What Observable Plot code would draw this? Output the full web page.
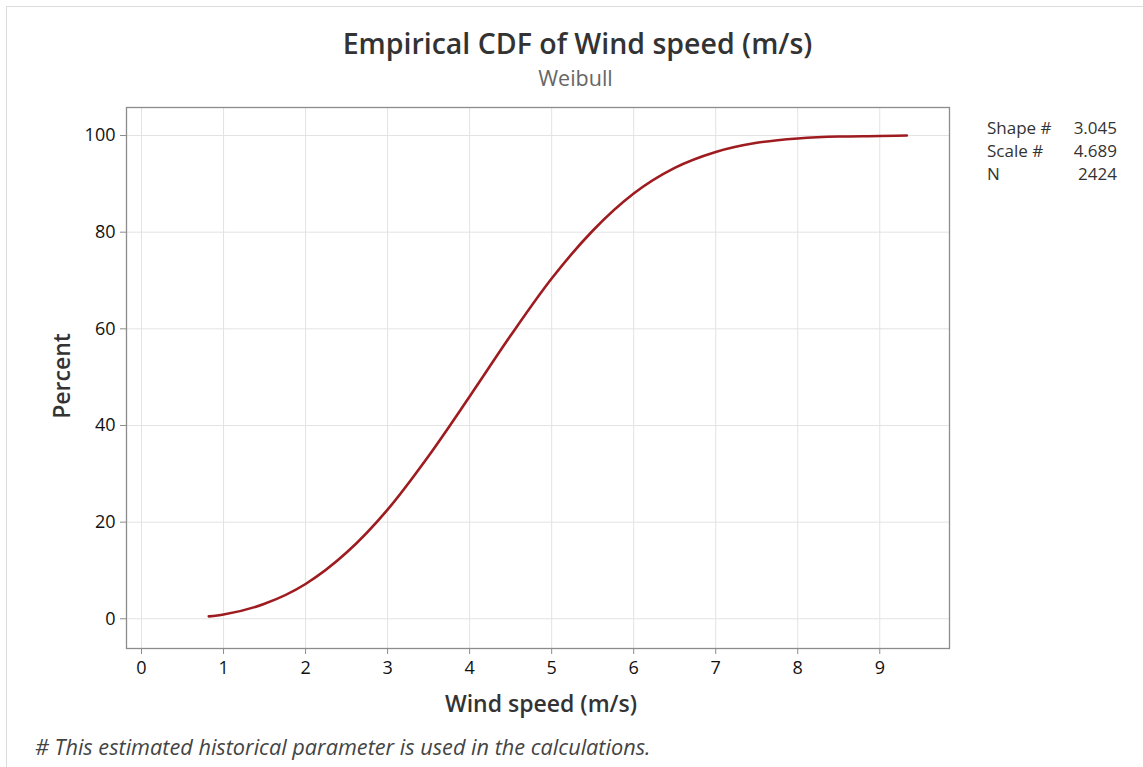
<!DOCTYPE html>
<html>
<head>
<meta charset="utf-8">
<script src="https://cdn.jsdelivr.net/npm/d3@7"></script>
<script src="https://cdn.jsdelivr.net/npm/@observablehq/plot@0.6"></script>
<style>
  body { margin: 0; background: #fff; font-family: "Open Sans", sans-serif; }
  #wrap { position: relative; width: 1143px; height: 767px; overflow: hidden; background: #fff; }
  #border { position: absolute; left: 6px; top: 6px; width: 1150px; height: 780px; border-left: 1.5px solid #dcdcdc; border-top: 1.5px solid #dcdcdc; }
  #chart { position: absolute; left: 0; top: 0; }
  #title { position: absolute; left: 0; width: 1143px; top: 26px; text-align: center; padding-left: 12px; box-sizing: border-box;
           font-size: 28.5px; font-weight: 600; color: #333; line-height: 34px; }
  #subtitle { position: absolute; left: 0; width: 1143px; top: 65px; text-align: center; padding-left: 8px; box-sizing: border-box;
              font-size: 21.5px; color: #666; line-height: 26px; }
  #legend { position: absolute; left: 987px; top: 116px; width: 130px; font-size: 17px; font-weight: 500; color: #333; line-height: 23px; }
  #legend .row { display: flex; justify-content: space-between; }
  #foot { position: absolute; left: 35px; top: 732px; font-size: 21.7px; font-style: italic; color: #444; line-height: 30px; white-space: nowrap; }
</style>
</head>
<body>
<div id="wrap">
  <div id="border"></div>
  <div id="chart"></div>
  <div id="title"></div>
  <div id="subtitle"></div>
  <div id="legend"></div>
  <div id="foot"></div>
</div>
<script>
// ---- Data ----
const windSpeed = [0.82, 1.0, 1.5, 2.0, 2.5, 3.0, 3.5, 4.0, 4.5, 5.0, 5.5, 6.0, 6.5, 7.0, 7.5, 8.0, 8.5, 9.0, 9.33];
const percent   = [0.5, 0.9, 3.1, 7.2, 13.7, 22.6, 33.7, 46.0, 58.6, 70.4, 80.3, 88.0, 93.3, 96.6, 98.5, 99.4, 99.8, 99.9, 100.0];
const xTicks = [0, 1, 2, 3, 4, 5, 6, 7, 8, 9];
const yTicks = [0, 20, 40, 60, 80, 100];
const legendLabels = ["Shape #", "Scale #", "N"];
const legendValues = ["3.045", "4.689", "2424"];
const titleText = "Empirical CDF of Wind speed (m/s)";
const subtitleText = "Weibull";
const xLabel = "Wind speed (m/s)";
const yLabel = "Percent";
const footText = "# This estimated historical parameter is used in the calculations.";

const data = windSpeed.map((x, i) => ({ x, y: percent[i] }));

document.getElementById("title").textContent = titleText;
document.getElementById("subtitle").textContent = subtitleText;
document.getElementById("foot").textContent = footText;
const leg = document.getElementById("legend");
legendLabels.forEach((l, i) => {
  const row = document.createElement("div");
  row.className = "row";
  const a = document.createElement("span"); a.textContent = l;
  const b = document.createElement("span"); b.textContent = legendValues[i];
  row.appendChild(a); row.appendChild(b);
  leg.appendChild(row);
});

const chart = Plot.plot({
  width: 1143,
  height: 767,
  marginLeft: 126,
  marginRight: 194,
  marginTop: 107,
  marginBottom: 119,
  style: { fontFamily: "'Open Sans', sans-serif", background: "transparent", overflow: "visible" },
  x: { domain: [-0.183, 9.85] },
  y: { domain: [-6.15, 105.8] },
  marks: [
    Plot.gridX(xTicks, { stroke: "#e3e3e3", strokeOpacity: 1, strokeWidth: 1 }),
    Plot.gridY(yTicks, { stroke: "#e3e3e3", strokeOpacity: 1, strokeWidth: 1 }),
    Plot.frame({ stroke: "#8c8c8c", strokeWidth: 1.3 }),
    Plot.axisX({ ticks: xTicks, tickSize: 6, tickPadding: 7, fontSize: 18, fontWeight: 500, stroke: "#8c8c8c", fill: "#111", label: null, tickFormat: d => String(d) }),
    Plot.axisY({ ticks: yTicks, tickSize: 6, tickPadding: 5, fontSize: 18, fontWeight: 500, stroke: "#8c8c8c", fill: "#111", label: null, tickFormat: d => String(d) }),
    Plot.line(data, { x: "x", y: "y", stroke: "#9e1b1f", strokeWidth: 2.6, curve: "monotone-x" }),
    Plot.text([xLabel], { frameAnchor: "bottom", lineAnchor: "middle", textAnchor: "middle", dy: 56, dx: 3, fontSize: 23, fontWeight: 600, fill: "#333" }),
    Plot.text([yLabel], { frameAnchor: "left", lineAnchor: "middle", textAnchor: "middle", dx: -64, dy: -2, rotate: -90, fontSize: 23, fontWeight: 600, fill: "#333" })
  ]
});
document.getElementById("chart").appendChild(chart);
</script>
</body>
</html>
